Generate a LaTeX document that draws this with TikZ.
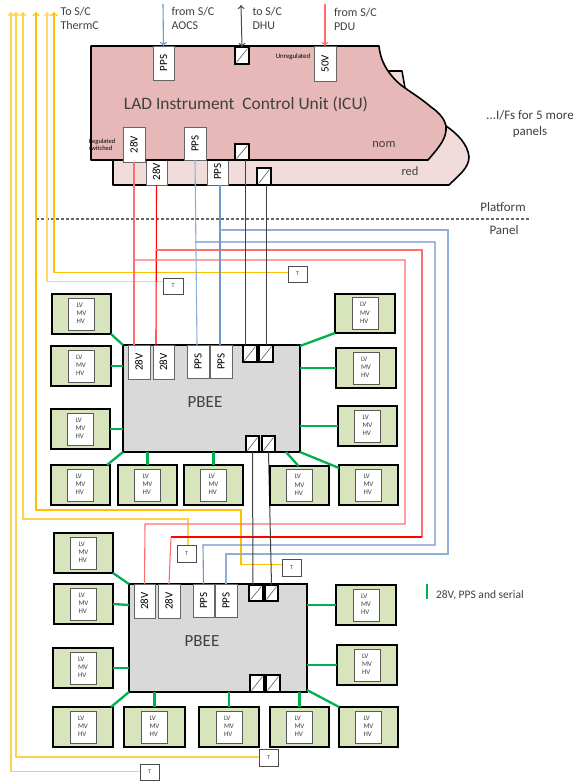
\documentclass[tikz,border=0pt]{standalone}
\usepackage{fontspec}
\setmainfont{Carlito}
\usetikzlibrary{arrows.meta}
\definecolor{icunom}{HTML}{E6B8B7}
\definecolor{icured}{HTML}{F2DCDB}
\definecolor{modfill}{HTML}{D8E4BC}
\definecolor{pbfill}{HTML}{D9D9D9}
\definecolor{grn}{HTML}{00B050}
\definecolor{goldA}{HTML}{FFD24D}
\definecolor{goldB}{HTML}{FFC000}
\definecolor{goldC}{HTML}{FFD966}
\definecolor{blueA}{HTML}{8FAFD8}
\definecolor{blueB}{HTML}{6F97CC}
\definecolor{redA}{HTML}{FF6F6F}
\definecolor{txt}{HTML}{404040}
\newcommand{\fs}[1]{\fontsize{#1}{#1}\selectfont}
\newcommand{\rbox}[7]{%
  \pgfmathsetmacro\cxx{(#3+#5)/2}\pgfmathsetmacro\cyy{(#4+#6)/2}%
  \pgfmathsetmacro\wdd{#5-#3}\pgfmathsetmacro\htt{#6-#4}%
  \node[#1,minimum width=\wdd pt,minimum height=\htt pt] (#2) at (\cxx,\cyy) {#7};}
\newcommand{\vtxt}[1]{\rotatebox{90}{\fs{11}\color{black}#1}}
\newcommand{\modul}[5]{%
  \rbox{modbox}{#1}{#2}{#3}{#4}{#5}{}%
  \node[modin] (#1i) at (#1) {\makebox[26pt][l]{\hspace{8pt}\begin{tabular}[c]{@{}l@{}}LV\\MV\\HV\end{tabular}}};}
\tikzset{
  modbox/.style={draw=black,line width=1.6pt,fill=modfill,inner sep=0pt,outer sep=0pt},
  modin/.style={draw=black!65,line width=0.8pt,fill=white,inner sep=0pt,outer sep=0pt,minimum width=26pt,minimum height=32pt,
    font=\fontsize{7}{8.3}\selectfont,text=txt},
  tagbox/.style={draw=black!60,line width=0.7pt,fill=white,inner sep=0pt,outer sep=0pt},
  slashbox/.style={draw=black,line width=1.5pt,fill=white,inner sep=0pt,outer sep=0pt,
    path picture={\draw[black!65,line width=0.6pt] ([shift={(1.5pt,1.5pt)}]path picture bounding box.south west) -- ([shift={(-1.5pt,-1.5pt)}]path picture bounding box.north east);}},
  pbee/.style={draw=black,line width=1.6pt,fill=pbfill,inner sep=0pt,outer sep=0pt},
  tempbox/.style={draw=black!70,line width=0.8pt,fill=white,inner sep=0pt,outer sep=0pt,font=\fs{6},text=txt},
  lab/.style={inner sep=0pt,outer sep=0pt,font=\fs{12},text=txt,align=left,anchor=north west},
  clab/.style={inner sep=0pt,outer sep=0pt,font=\fs{12},text=txt,align=center},
  wiregreen/.style={grn,line width=2.3pt},
  wy/.style={line width=1.3pt},
  tipo/.style={-{To[length=4pt,width=7pt]}},
  wblack/.style={black!75,line width=1pt},
}
\begin{document}
\begin{tikzpicture}[x=1pt,y=-1pt]
\useasboundingbox (0,0) rectangle (582,784);
\fill[white] (0,0) rectangle (582,784);

% ICU shapes
\fill[icured] (388,71) -- (402,71) -- (405,88) -- cycle;
\draw[line width=1.5pt,line join=round] (388,71) -- (402,71) -- (405,88);
\draw[fill=icured,line width=1.6pt,line join=round] (113,150) -- (113,185) -- (449,185) .. controls (458,176) and (469,168) .. (469,157) .. controls (468,145) and (458,134) .. (446,126) -- cycle;
\rbox{tagbox}{icuB}{146}{158}{167}{185}{\vtxt{28V}}
\rbox{tagbox}{icuD}{207}{158}{228}{185}{\vtxt{PPS}}
\rbox{slashbox}{icuSb}{257}{168}{271}{185}{}
\draw[fill=icunom,line width=1.6pt,line join=round] (91,46) -- (379,46) .. controls (380,57) and (384,65) .. (388,71) .. controls (393,78) and (399,84) .. (405,88) .. controls (415,95) and (423,100) .. (431,107) .. controls (440,113) and (445,120) .. (446,126) .. controls (447,138) and (440,146) .. (428,160) -- (91,160) -- cycle;
\rbox{tagbox}{icuA}{123}{127}{145}{162}{\vtxt{28V}}
\rbox{tagbox}{icuC}{184}{127}{206}{160}{\vtxt{PPS}}
\rbox{slashbox}{icuSa}{235}{144}{249}{160}{}
\rbox{tagbox}{icuP}{153}{46}{174}{80}{\vtxt{PPS}}
\rbox{slashbox}{icuSt}{235}{47}{249}{64}{}
\rbox{tagbox}{icuF}{314}{46}{336}{81}{\vtxt{50V}}

\node[clab,font=\fs{17.4},text=txt] (icutitle) at (246,104) {LAD Instrument\ \ Control Unit (ICU)};
\node[clab,font=\fs{12.5}] (nomlab) at (384,145) {nom};
\node[clab,font=\fs{12.5}] (redlab) at (410,171) {red};
\node[inner sep=0pt,font=\fs{6.5},align=left,text=black] (reglab) at (102,145) {Regulated\\[1pt]switched};
\node[inner sep=0pt,font=\fs{6.8},text=black] (unreglab) at (293,57) {Unregulated};

% Top labels
\node[lab] (tlA) at (60.5,7.5) {To S/C\\[2pt]ThermC};
\node[lab] (tlB) at (171.5,7.5) {from S/C\\[2pt]AOCS};
\node[lab] (tlC) at (252.5,7.5) {to S/C\\[2pt]DHU};
\node[lab] (tlD) at (334,8.5) {from S/C\\[2pt]PDU};
\node[clab,font=\fs{13},align=center] (more) at (530,124) {...I/Fs for 5 more\\[3pt]panels};
\node[clab,font=\fs{13}] (plat) at (503,207) {Platform};
\node[clab,font=\fs{13}] (pan) at (504,230) {Panel};
\coordinate (dashL) at (36,219);
\coordinate (dashR) at (531,219);
\draw[black!60,line width=1.1pt,dash pattern=on 3pt off 2pt] (dashL) -- (dashR);

% Top arrows
\coordinate (aocs) at (163,4);
\coordinate (dhu) at (241,5);
\coordinate (pdu) at (325,4);
\draw[blueB,line width=1.1pt,tipo] (aocs) -- (icuP.north);
\draw[black!70,line width=1pt,{To[length=4pt,width=7pt]}-{To[length=4pt,width=7pt]}] (dhu) -- (icuSt.north);
\draw[redA,line width=1.1pt,tipo] (pdu) -- (icuF.north);

% PBEE 1
\rbox{pbee}{pbA}{123}{345}{300}{452}{}
\node[clab,font=\fs{17}] (pbAt) at (205,402) {PBEE};
\rbox{tagbox}{pA}{128}{345}{150}{379}{\vtxt{28V}}
\rbox{tagbox}{pB}{153}{345}{174}{379}{\vtxt{28V}}
\rbox{tagbox}{pC}{187}{345}{209}{378}{\vtxt{PPS}}
\rbox{tagbox}{pD}{210}{345}{232}{378}{\vtxt{PPS}}
\rbox{slashbox}{pS}{243}{345}{257}{362}{}
\rbox{slashbox}{pT}{259}{345}{273}{362}{}
\rbox{slashbox}{pU}{246}{436}{259}{452}{}
\rbox{slashbox}{pV}{262}{436}{275}{452}{}

% PBEE 2
\rbox{pbee}{pbB}{129}{584}{307}{692}{}
\node[clab,font=\fs{17}] (pbBt) at (202,641) {PBEE};
\rbox{tagbox}{qA}{134}{584}{155}{618}{\vtxt{28V}}
\rbox{tagbox}{qB}{158}{584}{180}{618}{\vtxt{28V}}
\rbox{tagbox}{qC}{193}{584}{214}{617}{\vtxt{PPS}}
\rbox{tagbox}{qD}{215}{584}{237}{617}{\vtxt{PPS}}
\rbox{slashbox}{qS}{249}{585}{263}{601}{}
\rbox{slashbox}{qT}{265}{585}{278}{601}{}
\rbox{slashbox}{qU}{250}{675}{264}{692}{}
\rbox{slashbox}{qV}{266}{675}{280}{692}{}

% T boxes
\rbox{tempbox}{tA}{288}{266}{307}{282}{T}
\rbox{tempbox}{tB}{163}{278}{183}{294}{T}
\rbox{tempbox}{tC}{282}{559}{301}{576}{T}
\rbox{tempbox}{tD}{177}{545}{196}{562}{T}
\rbox{tempbox}{tE}{259}{749}{278}{766}{T}
\rbox{tempbox}{tF}{140}{764}{159}{780}{T}

% Yellow thermistor lines
\coordinate (yA) at (54,12);
\coordinate (yB) at (47,12);
\coordinate (yC1) at (241,510);
\coordinate (yC) at (36,12);
\coordinate (yD1) at (188,519);
\coordinate (yD) at (23,12);
\coordinate (yE) at (16,12);
\coordinate (yF) at (11,12);
\draw[goldB,wy,tipo] ([yshift=1.5pt]tA.west) -| (yA);
\draw[goldC,wy,tipo] ([yshift=4.5pt]tB.west) -| (yB);
\draw[goldB,wy,tipo] ([yshift=3pt]tC.west) -| (yC1) -| (yC);
\draw[goldA,wy,tipo] (tD.north -| yD1) -- (yD1) -| (yD);
\draw[goldA,wy,tipo] ([yshift=0.5pt]tE.west) -| (yE);
\draw[goldA,wy,tipo] ([yshift=0.5pt]tF.west) -| (yF);

% Power lines
\coordinate (r1a) at (134,260);\coordinate (r1b) at (405,260);\coordinate (r1c) at (405,524);\coordinate (r1d) at (145,524);
\coordinate (r2a) at (156,250);\coordinate (r2b) at (422,250);\coordinate (r2c) at (422,537);\coordinate (r2d) at (171,537);
\draw[redA,line width=1.1pt] (icuA.south) -- ([xshift=-5pt]pA.north);
\draw[red,line width=1.1pt] (icuB.south) -- ([xshift=-7.5pt]pB.north);
\draw[redA,line width=1.1pt] (r1a) -- (r1b) -- (r1c) -- (r1d) -- (qA.north);
\draw[redA,line width=1.5pt] (r2a) -- (r2b) -- (r2c);
\draw[red,line width=1.3pt] (r2c) -- (r2d);
\draw[redA,line width=1.1pt] (r2d) -- (qB.north);

% PPS lines
\coordinate (b1a) at (195,242);\coordinate (b1b) at (435,242);\coordinate (b1c) at (435,545);\coordinate (b1d) at (203,545);
\coordinate (b2a) at (220,230);\coordinate (b2b) at (448,230);\coordinate (b2c) at (448,554);\coordinate (b2d) at (226,554);
\draw[blueA,line width=1.1pt] (icuC.south) -- ([xshift=-1pt]pC.north);
\draw[blueB,line width=1.1pt] ([xshift=2.5pt]icuD.south) -- ([xshift=-1pt]pD.north);
\draw[blueB,line width=1.1pt] (b1a) -- (b1b) -- (b1c) -- (b1d) -- (qC.north);
\draw[blueA,line width=1.1pt] (b2a) -- (b2b) -- (b2c) -- (b2d) -- (qD.north);

% Serial lines
\draw[wblack] ([xshift=3pt]icuSa.south) -- ([xshift=-5pt]pS.north);
\draw[wblack] ([xshift=2pt]icuSb.south) -- (pT.north);
\draw[wblack] (pU.south) -- ([xshift=-3pt]qS.north);
\draw[wblack] (pV.south) -- (qT.north);

% Modules, PBEE 1
\modul{mA}{52}{294}{111}{334}
\modul{mB}{51}{346}{111}{386}
\modul{mC}{51}{409}{110}{449}
\modul{mD}{51}{465}{110}{505}
\modul{mE}{118}{465}{177}{505}
\modul{mF}{184}{465}{243}{505}
\modul{mG}{270}{466}{329}{505}
\modul{mH}{339}{465}{398}{505}
\modul{mI}{335}{294}{395}{333}
\modul{mJ}{336}{348}{396}{388}
\modul{mK}{338}{406}{397}{446}
% Modules, PBEE 2
\modul{nA}{54}{533}{113}{573}
\modul{nB}{54}{584}{113}{624}
\modul{nC}{53}{648}{113}{688}
\modul{nD}{53}{707}{113}{747}
\modul{nE}{124}{707}{185}{747}
\modul{nF}{199}{707}{259}{747}
\modul{nG}{270}{707}{329}{747}
\modul{nH}{339}{707}{398}{747}
\modul{nI}{336}{585}{396}{625}
\modul{nJ}{337}{645}{397}{685}

% Green links, PBEE 1
\draw[wiregreen] (mA.south east) -- (pbA.north west);
\draw[wiregreen] (mB.east) -- (mB.east -| pbA.west);
\draw[wiregreen] (mC.east) -- (mC.east -| pbA.west);
\draw[wiregreen] ([xshift=-3pt]mD.north east) -- (pbA.south west);
\draw[wiregreen] (mE.north) -- (mE.north |- pbA.south);
\draw[wiregreen] (mF.north) -- (mF.north |- pbA.south);
\draw[wiregreen] ([xshift=-14pt]pbA.south east) -- ([xshift=-1pt]mG.north);
\draw[wiregreen] (pbA.south east) -- ([yshift=-3pt]mH.north west);
\draw[wiregreen] ([yshift=-1pt]pbA.north east) -- (mI.south west);
\draw[wiregreen] (mJ.west) -- (mJ.west -| pbA.east);
\draw[wiregreen] (mK.west) -- (mK.west -| pbA.east);
% Green links, PBEE 2
\draw[wiregreen] (nA.south east) -- (pbB.north west);
\draw[wiregreen] (nB.east) -- ([yshift=-1pt]nB.east -| pbB.west);
\draw[wiregreen] (nC.east) -- (nC.east -| pbB.west);
\draw[wiregreen] ([xshift=-2pt]nD.north east) -- (pbB.south west);
\draw[wiregreen] (nE.north) -- (nE.north |- pbB.south);
\draw[wiregreen] (nF.north) -- (nF.north |- pbB.south);
\draw[wiregreen] (nG.north) -- (nG.north |- pbB.south);
\draw[wiregreen] ([yshift=2pt]pbB.south east) -- (nH.north west);
\draw[wiregreen] (nI.west) -- (nI.west -| pbB.east);
\draw[wiregreen] (nJ.west) -- (nJ.west -| pbB.east);

% Legend
\coordinate (legA) at (427,584);
\coordinate (legB) at (427,599);
\draw[wiregreen] (legA) -- (legB);
\node[lab,anchor=west,font=\fs{11.5}] (legt) at (436,595) {28V, PPS and serial};
\end{tikzpicture}
\end{document}
